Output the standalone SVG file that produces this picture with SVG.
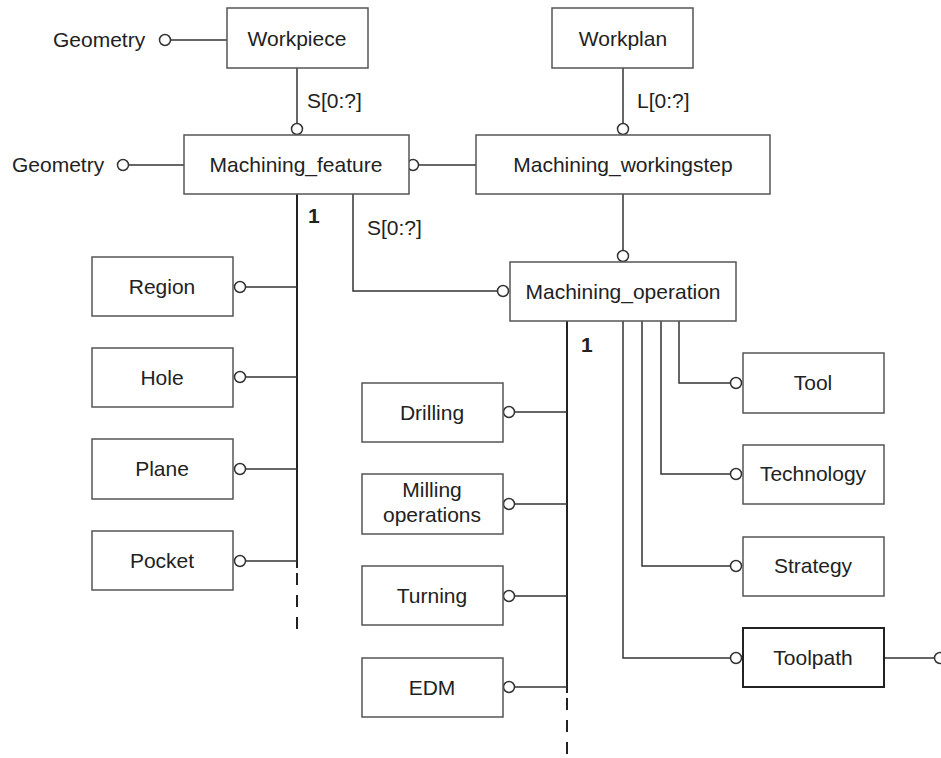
<svg xmlns="http://www.w3.org/2000/svg" width="941" height="758" viewBox="0 0 941 758">
<style>
.box{fill:#fff;stroke:#555;stroke-width:1.5}
.bold{stroke:#222;stroke-width:2}
.ln{fill:none;stroke:#333;stroke-width:1.5}
.main{fill:none;stroke:#222;stroke-width:2}
.dash{fill:none;stroke:#222;stroke-width:2;stroke-dasharray:12 10}
.c{fill:#fff;stroke:#333;stroke-width:1.5}
text{font-family:"Liberation Sans",Arial,sans-serif;font-size:21px;fill:#222}
.t{text-anchor:middle}
.b{font-weight:bold}
</style>
<rect width="941" height="758" fill="#fff"/>
<g id="connectors">
  <line class="ln" x1="170" y1="40" x2="227" y2="40"/>
  <line class="ln" x1="297" y1="68" x2="297" y2="124"/>
  <line class="ln" x1="128" y1="165" x2="184" y2="165"/>
  <line class="ln" x1="418" y1="165" x2="476" y2="165"/>
  <line class="ln" x1="623" y1="68" x2="623" y2="124"/>
  <line class="ln" x1="623" y1="194" x2="623" y2="251"/>
  <polyline class="ln" points="353,194 353,291 498,291"/>
  <line class="main" x1="297" y1="194" x2="297" y2="568"/>
  <line class="dash" x1="297" y1="573" x2="297" y2="634"/>
  <line class="ln" x1="245" y1="287" x2="297" y2="287"/>
  <line class="ln" x1="245" y1="377" x2="297" y2="377"/>
  <line class="ln" x1="245" y1="469" x2="297" y2="469"/>
  <line class="ln" x1="245" y1="561" x2="297" y2="561"/>
  <line class="main" x1="567" y1="321" x2="567" y2="693"/>
  <line class="dash" x1="567" y1="698" x2="567" y2="758"/>
  <line class="ln" x1="514" y1="412" x2="567" y2="412"/>
  <line class="ln" x1="514" y1="504" x2="567" y2="504"/>
  <line class="ln" x1="514" y1="596" x2="567" y2="596"/>
  <line class="ln" x1="514" y1="687" x2="567" y2="687"/>
  <polyline class="ln" points="679,321 679,383 731,383"/>
  <polyline class="ln" points="661,321 661,474 731,474"/>
  <polyline class="ln" points="642,321 642,566 731,566"/>
  <polyline class="ln" points="623,321 623,658 731,658"/>
  <line class="ln" x1="884" y1="658" x2="935" y2="658"/>
  <circle class="c" cx="165" cy="40" r="5.5"/>
  <circle class="c" cx="297" cy="129" r="5.5"/>
  <circle class="c" cx="123" cy="165" r="5.5"/>
  <circle class="c" cx="413" cy="165" r="5.5"/>
  <circle class="c" cx="623" cy="129" r="5.5"/>
  <circle class="c" cx="623" cy="256" r="5.5"/>
  <circle class="c" cx="503" cy="291" r="5.5"/>
  <circle class="c" cx="240" cy="287" r="5.5"/>
  <circle class="c" cx="240" cy="377" r="5.5"/>
  <circle class="c" cx="240" cy="469" r="5.5"/>
  <circle class="c" cx="240" cy="561" r="5.5"/>
  <circle class="c" cx="509" cy="412" r="5.5"/>
  <circle class="c" cx="509" cy="504" r="5.5"/>
  <circle class="c" cx="509" cy="596" r="5.5"/>
  <circle class="c" cx="509" cy="687" r="5.5"/>
  <circle class="c" cx="736" cy="383" r="5.5"/>
  <circle class="c" cx="736" cy="474" r="5.5"/>
  <circle class="c" cx="736" cy="566" r="5.5"/>
  <circle class="c" cx="736" cy="658" r="5.5"/>
  <circle class="c" cx="940" cy="658" r="5.5"/>
  <text x="307" y="108">S[0:?]</text>
  <text x="637" y="108">L[0:?]</text>
  <text x="367" y="235">S[0:?]</text>
  <text class="b" x="308" y="223">1</text>
  <text class="b" x="581" y="352">1</text>
</g>
<g id="geometry1"><text x="53" y="47">Geometry</text></g>
<g id="geometry2"><text x="12" y="172">Geometry</text></g>
<g id="workpiece"><rect class="box" x="227" y="8" width="141" height="60"/><text class="t" x="297" y="46">Workpiece</text></g>
<g id="workplan"><rect class="box" x="552" y="8" width="141" height="60"/><text class="t" x="623" y="46">Workplan</text></g>
<g id="machining_feature"><rect class="box" x="184" y="135" width="225" height="59"/><text class="t" x="296" y="172">Machining_feature</text></g>
<g id="machining_workingstep"><rect class="box" x="476" y="135" width="294" height="59"/><text class="t" x="623" y="172">Machining_workingstep</text></g>
<g id="machining_operation"><rect class="box" x="510" y="262" width="226" height="59"/><text class="t" x="623" y="299">Machining_operation</text></g>
<g id="region"><rect class="box" x="92" y="257" width="141" height="59"/><text class="t" x="162" y="294">Region</text></g>
<g id="hole"><rect class="box" x="92" y="348" width="141" height="59"/><text class="t" x="162" y="385">Hole</text></g>
<g id="plane"><rect class="box" x="92" y="439" width="141" height="60"/><text class="t" x="162" y="476">Plane</text></g>
<g id="pocket"><rect class="box" x="92" y="531" width="141" height="59"/><text class="t" x="162" y="568">Pocket</text></g>
<g id="drilling"><rect class="box" x="362" y="383" width="141" height="59"/><text class="t" x="432" y="420">Drilling</text></g>
<g id="milling"><rect class="box" x="362" y="474" width="141" height="60"/><text class="t" x="432" y="497">Milling</text><text class="t" x="432" y="522">operations</text></g>
<g id="turning"><rect class="box" x="362" y="566" width="141" height="59"/><text class="t" x="432" y="603">Turning</text></g>
<g id="edm"><rect class="box" x="362" y="658" width="141" height="59"/><text class="t" x="432" y="695">EDM</text></g>
<g id="tool"><rect class="box" x="743" y="353" width="141" height="60"/><text class="t" x="813" y="390">Tool</text></g>
<g id="technology"><rect class="box" x="743" y="445" width="141" height="59"/><text class="t" x="813" y="481">Technology</text></g>
<g id="strategy"><rect class="box" x="743" y="537" width="141" height="59"/><text class="t" x="813" y="573">Strategy</text></g>
<g id="toolpath"><rect class="box bold" x="743" y="628" width="141" height="59"/><text class="t" x="813" y="665">Toolpath</text></g>
</svg>
